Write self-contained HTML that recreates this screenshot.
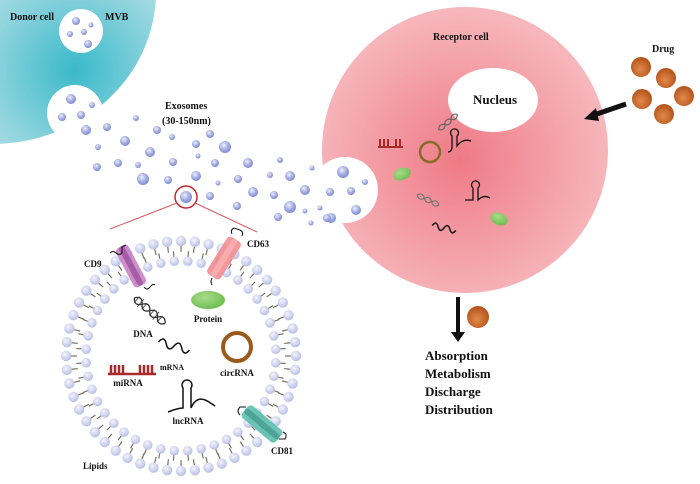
<!DOCTYPE html>
<html><head><meta charset="utf-8"><style>
html,body{margin:0;padding:0;background:#fff;}
svg{display:block;}
text{font-family:"Liberation Serif",serif;font-weight:bold;fill:#111;}
</style></head><body>
<svg width="700" height="484" viewBox="0 0 700 484" xmlns="http://www.w3.org/2000/svg">
<defs>
<radialGradient id="teal" cx="75" cy="70" r="110" gradientUnits="userSpaceOnUse">
<stop offset="0" stop-color="#3ab9c9"/><stop offset="1" stop-color="#a9dce4"/></radialGradient>
<radialGradient id="pink" cx="460" cy="160" r="150" gradientUnits="userSpaceOnUse">
<stop offset="0" stop-color="#ef7a86"/><stop offset="1" stop-color="#f6b7bc"/></radialGradient>
<radialGradient id="dot" cx="0.4" cy="0.35" r="0.7">
<stop offset="0" stop-color="#eef0fb"/><stop offset="0.5" stop-color="#a9b1e3"/><stop offset="1" stop-color="#7884cf"/></radialGradient>
<radialGradient id="head" cx="0.4" cy="0.35" r="0.7">
<stop offset="0" stop-color="#f3f4fc"/><stop offset="1" stop-color="#b5bbe4"/></radialGradient>
<radialGradient id="ball" cx="0.45" cy="0.6" r="0.6">
<stop offset="0" stop-color="#e38a4a"/><stop offset="1" stop-color="#b1521b"/></radialGradient>
<radialGradient id="grn" cx="0.4" cy="0.35" r="0.7">
<stop offset="0" stop-color="#a8dc8a"/><stop offset="1" stop-color="#6cbd4f"/></radialGradient>
</defs>

<!-- donor cell -->
<ellipse cx="-8" cy="-8" rx="164" ry="152" fill="url(#teal)"/>
<circle cx="81" cy="31" r="22" fill="#fff"/>
<circle cx="75" cy="113" r="28" fill="#fff"/>
<text x="10" y="20" font-size="10">Donor cell</text>
<text x="105" y="20" font-size="10">MVB</text>

<!-- receptor cell -->
<circle cx="465" cy="150" r="143" fill="url(#pink)"/>
<ellipse cx="493" cy="100" rx="45" ry="32" fill="#fff"/>
<circle cx="345" cy="190" r="33" fill="#fff"/>
<text x="433" y="40" font-size="10">Receptor cell</text>
<text x="473" y="104" font-size="13">Nucleus</text>
<text x="652" y="52" font-size="10">Drug</text>
<text x="165" y="109" font-size="10">Exosomes</text>
<text x="162" y="124" font-size="10">(30-150nm)</text>

<!-- exosome dots -->
<g fill="url(#dot)">
<circle cx="76" cy="21" r="4"/><circle cx="91" cy="25" r="2.5"/><circle cx="70" cy="34" r="3"/><circle cx="84" cy="32" r="3"/><circle cx="88" cy="44" r="4"/>
<circle cx="71" cy="99" r="5"/><circle cx="92" cy="105" r="3"/><circle cx="62" cy="117" r="4"/><circle cx="81" cy="115" r="4"/>
<circle cx="107" cy="127" r="4"/><circle cx="86" cy="130" r="5"/><circle cx="136" cy="118" r="3"/><circle cx="157" cy="130" r="4"/><circle cx="172" cy="137" r="3"/><circle cx="210" cy="134" r="4"/>
<circle cx="98" cy="147" r="3"/><circle cx="125" cy="141" r="5"/><circle cx="150" cy="152" r="5"/><circle cx="196" cy="144" r="4"/><circle cx="225" cy="147" r="6"/>
<circle cx="97" cy="167" r="4"/><circle cx="118" cy="163" r="4"/><circle cx="138" cy="165" r="3"/><circle cx="173" cy="162" r="4"/><circle cx="198" cy="156" r="2.5"/><circle cx="215" cy="163" r="4"/><circle cx="248" cy="163" r="5"/>
<circle cx="143" cy="179" r="6"/><circle cx="168" cy="180" r="4"/><circle cx="196" cy="176" r="5"/><circle cx="238" cy="179" r="4"/><circle cx="218" cy="183" r="2.5"/>
<circle cx="280" cy="160" r="3"/><circle cx="270" cy="175" r="3"/><circle cx="290" cy="176" r="5"/><circle cx="312" cy="168" r="2.5"/>
<circle cx="186" cy="197" r="6"/><circle cx="210" cy="196" r="4"/><circle cx="253" cy="192" r="5"/><circle cx="274" cy="195" r="4"/><circle cx="305" cy="190" r="5"/><circle cx="330" cy="192" r="4"/>
<circle cx="237" cy="206" r="4"/><circle cx="290" cy="207" r="6"/><circle cx="305" cy="211" r="2.5"/><circle cx="320" cy="208" r="2.5"/><circle cx="278" cy="217" r="4"/><circle cx="331" cy="218" r="5"/><circle cx="311" cy="223" r="2.5"/>
<circle cx="343" cy="172" r="6"/><circle cx="365" cy="182" r="3"/><circle cx="351" cy="191" r="4"/><circle cx="327" cy="218" r="4"/><circle cx="356" cy="210" r="5"/>
</g>
<circle cx="186" cy="197" r="11" fill="none" stroke="#c0282e" stroke-width="1.5"/>
<line x1="177" y1="203" x2="110" y2="229" stroke="#d9555e" stroke-width="1"/>
<line x1="195" y1="203" x2="257" y2="232" stroke="#d9555e" stroke-width="1"/>

<!-- lipid bilayer -->
<g id="bil"></g>

<!-- membrane proteins -->
<g transform="translate(131,266) rotate(62)"><rect x="-22" y="-7" width="44" height="14" rx="4" fill="#c67ac0" opacity="0.85"/><rect x="-22" y="-3" width="44" height="6" rx="3" fill="#8e3f8f" opacity="0.6"/></g>
<g transform="translate(224,258) rotate(-58)"><rect x="-22" y="-8" width="44" height="16" rx="4" fill="#f38e90" opacity="0.9"/><rect x="-22" y="-3" width="44" height="6" rx="3" fill="#f7b2b3" opacity="0.8"/></g>
<g transform="translate(262,424) rotate(40)"><rect x="-22" y="-8" width="44" height="16" rx="4" fill="#5cbfae" opacity="0.9"/><rect x="-22" y="-3" width="44" height="6" rx="3" fill="#3a8e80" opacity="0.6"/></g>
<path d="M110 253 q3 -3 6 0 q3 3 6 0 v-6 l4 -2" stroke="#111" stroke-width="1" fill="none"/>
<path d="M144 287 q3 4 6 0 q3 -4 5 -2" stroke="#111" stroke-width="1" fill="none"/>
<path d="M232 234 q-2 -4 2 -6 l6 2 q4 2 2 6" stroke="#111" stroke-width="1" fill="none"/>
<path d="M212 278 q-2 4 0 7" stroke="#111" stroke-width="1" fill="none"/>
<path d="M240 415 q-4 -4 0 -8 l6 0" stroke="#111" stroke-width="1" fill="none"/>
<path d="M283 432 q5 2 2 7 l-6 0" stroke="#111" stroke-width="1" fill="none"/>

<!-- icons in exosome -->
<ellipse cx="208" cy="300" rx="17" ry="9" fill="url(#grn)"/>
<g transform="rotate(40 149 310)" stroke="#333" stroke-width="1.3" fill="none">
<path d="M130 310 q5 -7 10 0 t10 0 t10 0 t10 0"/><path d="M130 310 q5 7 10 0 t10 0 t10 0 t10 0"/>
<path d="M133 306 v8 M138 305 v10 M143 306 v8 M153 306 v8 M158 305 v10 M163 306 v8" stroke-width="0.8"/></g>
<path d="M158 346 q4 -8 8 0 t8 0 t8 0 t8 0" stroke="#111" stroke-width="1.5" fill="none" transform="rotate(15 174 346)"/>
<circle cx="237" cy="347" r="14" fill="none" stroke="#9a5a1c" stroke-width="4"/>
<path d="M108 374 h48 M111 374 v-9 M115 374 v-9 M119 374 v-9 M123 374 v-9 M140 374 v-9 M144 374 v-9 M148 374 v-9 M152 374 v-9" stroke="#a82a2a" stroke-width="2.5" fill="none"/>
<path d="M168 412 q10 -4 15 -4 v-20 a5 5 0 1 1 8 0 v20 q6 -14 18 -6 l6 4" stroke="#111" stroke-width="1.5" fill="none"/>
<text x="143" y="337" font-size="9" text-anchor="middle">DNA</text>
<text x="208" y="322" font-size="9" text-anchor="middle">Protein</text>
<text x="172" y="370" font-size="8" text-anchor="middle">mRNA</text>
<text x="237" y="376" font-size="9" text-anchor="middle">circRNA</text>
<text x="128" y="386" font-size="9" text-anchor="middle">miRNA</text>
<text x="188" y="424" font-size="9" text-anchor="middle">lncRNA</text>
<text x="84" y="267" font-size="9">CD9</text>
<text x="247" y="247" font-size="9">CD63</text>
<text x="271" y="454" font-size="9">CD81</text>
<text x="83" y="469" font-size="9">Lipids</text>

<!-- icons in receptor -->
<path d="M378 147 h25 M380 147 v-8 M384 147 v-8 M388 147 v-8 M396 147 v-8 M400 147 v-8" stroke="#a82a2a" stroke-width="2" fill="none"/>
<circle cx="430" cy="152" r="10" fill="none" stroke="#8a6a2a" stroke-width="2.5"/>
<g transform="rotate(-40 448 122)" stroke="#666" stroke-width="1.2" fill="none"><path d="M436 122 q4 -5 8 0 t8 0 t8 0"/><path d="M436 122 q4 5 8 0 t8 0 t8 0"/></g>
<path d="M448 152 q3 0 4 -4 v-12 a4 4 0 1 1 5 0 v10 q6 -8 14 -5" stroke="#111" stroke-width="1.3" fill="none"/>
<path d="M465 200 h8 v-12 a4 4 0 1 1 5 0 v12 q6 -6 12 -2" stroke="#111" stroke-width="1.3" fill="none"/>
<g transform="rotate(25 428 200)" stroke="#777" stroke-width="1.2" fill="none"><path d="M416 200 q4 -5 8 0 t8 0 t8 0"/><path d="M416 200 q4 5 8 0 t8 0 t8 0"/></g>
<path d="M432 228 q3 -6 6 0 t6 0 t6 0 t6 0" stroke="#111" stroke-width="1.5" fill="none" transform="rotate(12 444 228)"/>
<ellipse cx="402" cy="174" rx="9" ry="6" fill="url(#grn)" transform="rotate(-20 402 174)"/>
<ellipse cx="499" cy="219" rx="9" ry="6" fill="url(#grn)" transform="rotate(20 499 219)"/>

<!-- drug -->
<g fill="url(#ball)"><circle cx="641" cy="67" r="10"/><circle cx="666" cy="78" r="10"/><circle cx="642" cy="99" r="10"/><circle cx="684" cy="96" r="10"/><circle cx="664" cy="114" r="10"/><circle cx="478" cy="317" r="11"/></g>
<line x1="626" y1="104" x2="594" y2="115" stroke="#111" stroke-width="5"/>
<polygon points="584,119 596,108 599,121" fill="#111"/>
<line x1="458" y1="297" x2="458" y2="333" stroke="#111" stroke-width="4"/>
<polygon points="451,332 465,332 458,342" fill="#111"/>
<text x="425" y="360" font-size="13">Absorption</text>
<text x="425" y="378" font-size="13">Metabolism</text>
<text x="425" y="396" font-size="13">Discharge</text>
<text x="425" y="414" font-size="13">Distribution</text>
</svg>
<script>
(function(){
var ns="http://www.w3.org/2000/svg",g=document.getElementById("bil");
var cx=181,cy=356,R1=115,R2=95;
function add(t,a){var e=document.createElementNS(ns,t);for(var k in a)e.setAttribute(k,a[k]);g.appendChild(e);}
var n1=52;for(var i=0;i<n1;i++){var a=i*2*Math.PI/n1;var c=Math.cos(a),s=Math.sin(a);
add("line",{x1:cx+c*(R1-5),y1:cy+s*(R1-5),x2:cx+c*(R1-11),y2:cy+s*(R1-11),stroke:"#7a7060","stroke-width":1.2});
add("circle",{cx:cx+c*R1,cy:cy+s*R1,r:5.2,fill:"url(#head)"});}
var n2=44;for(var i=0;i<n2;i++){var a=(i+0.5)*2*Math.PI/n2;var c=Math.cos(a),s=Math.sin(a);
add("line",{x1:cx+c*(R2+4),y1:cy+s*(R2+4),x2:cx+c*(R2+10),y2:cy+s*(R2+10),stroke:"#7a7060","stroke-width":1.2});
add("circle",{cx:cx+c*R2,cy:cy+s*R2,r:4.8,fill:"url(#head)"});}
})();
</script>
</body></html>
